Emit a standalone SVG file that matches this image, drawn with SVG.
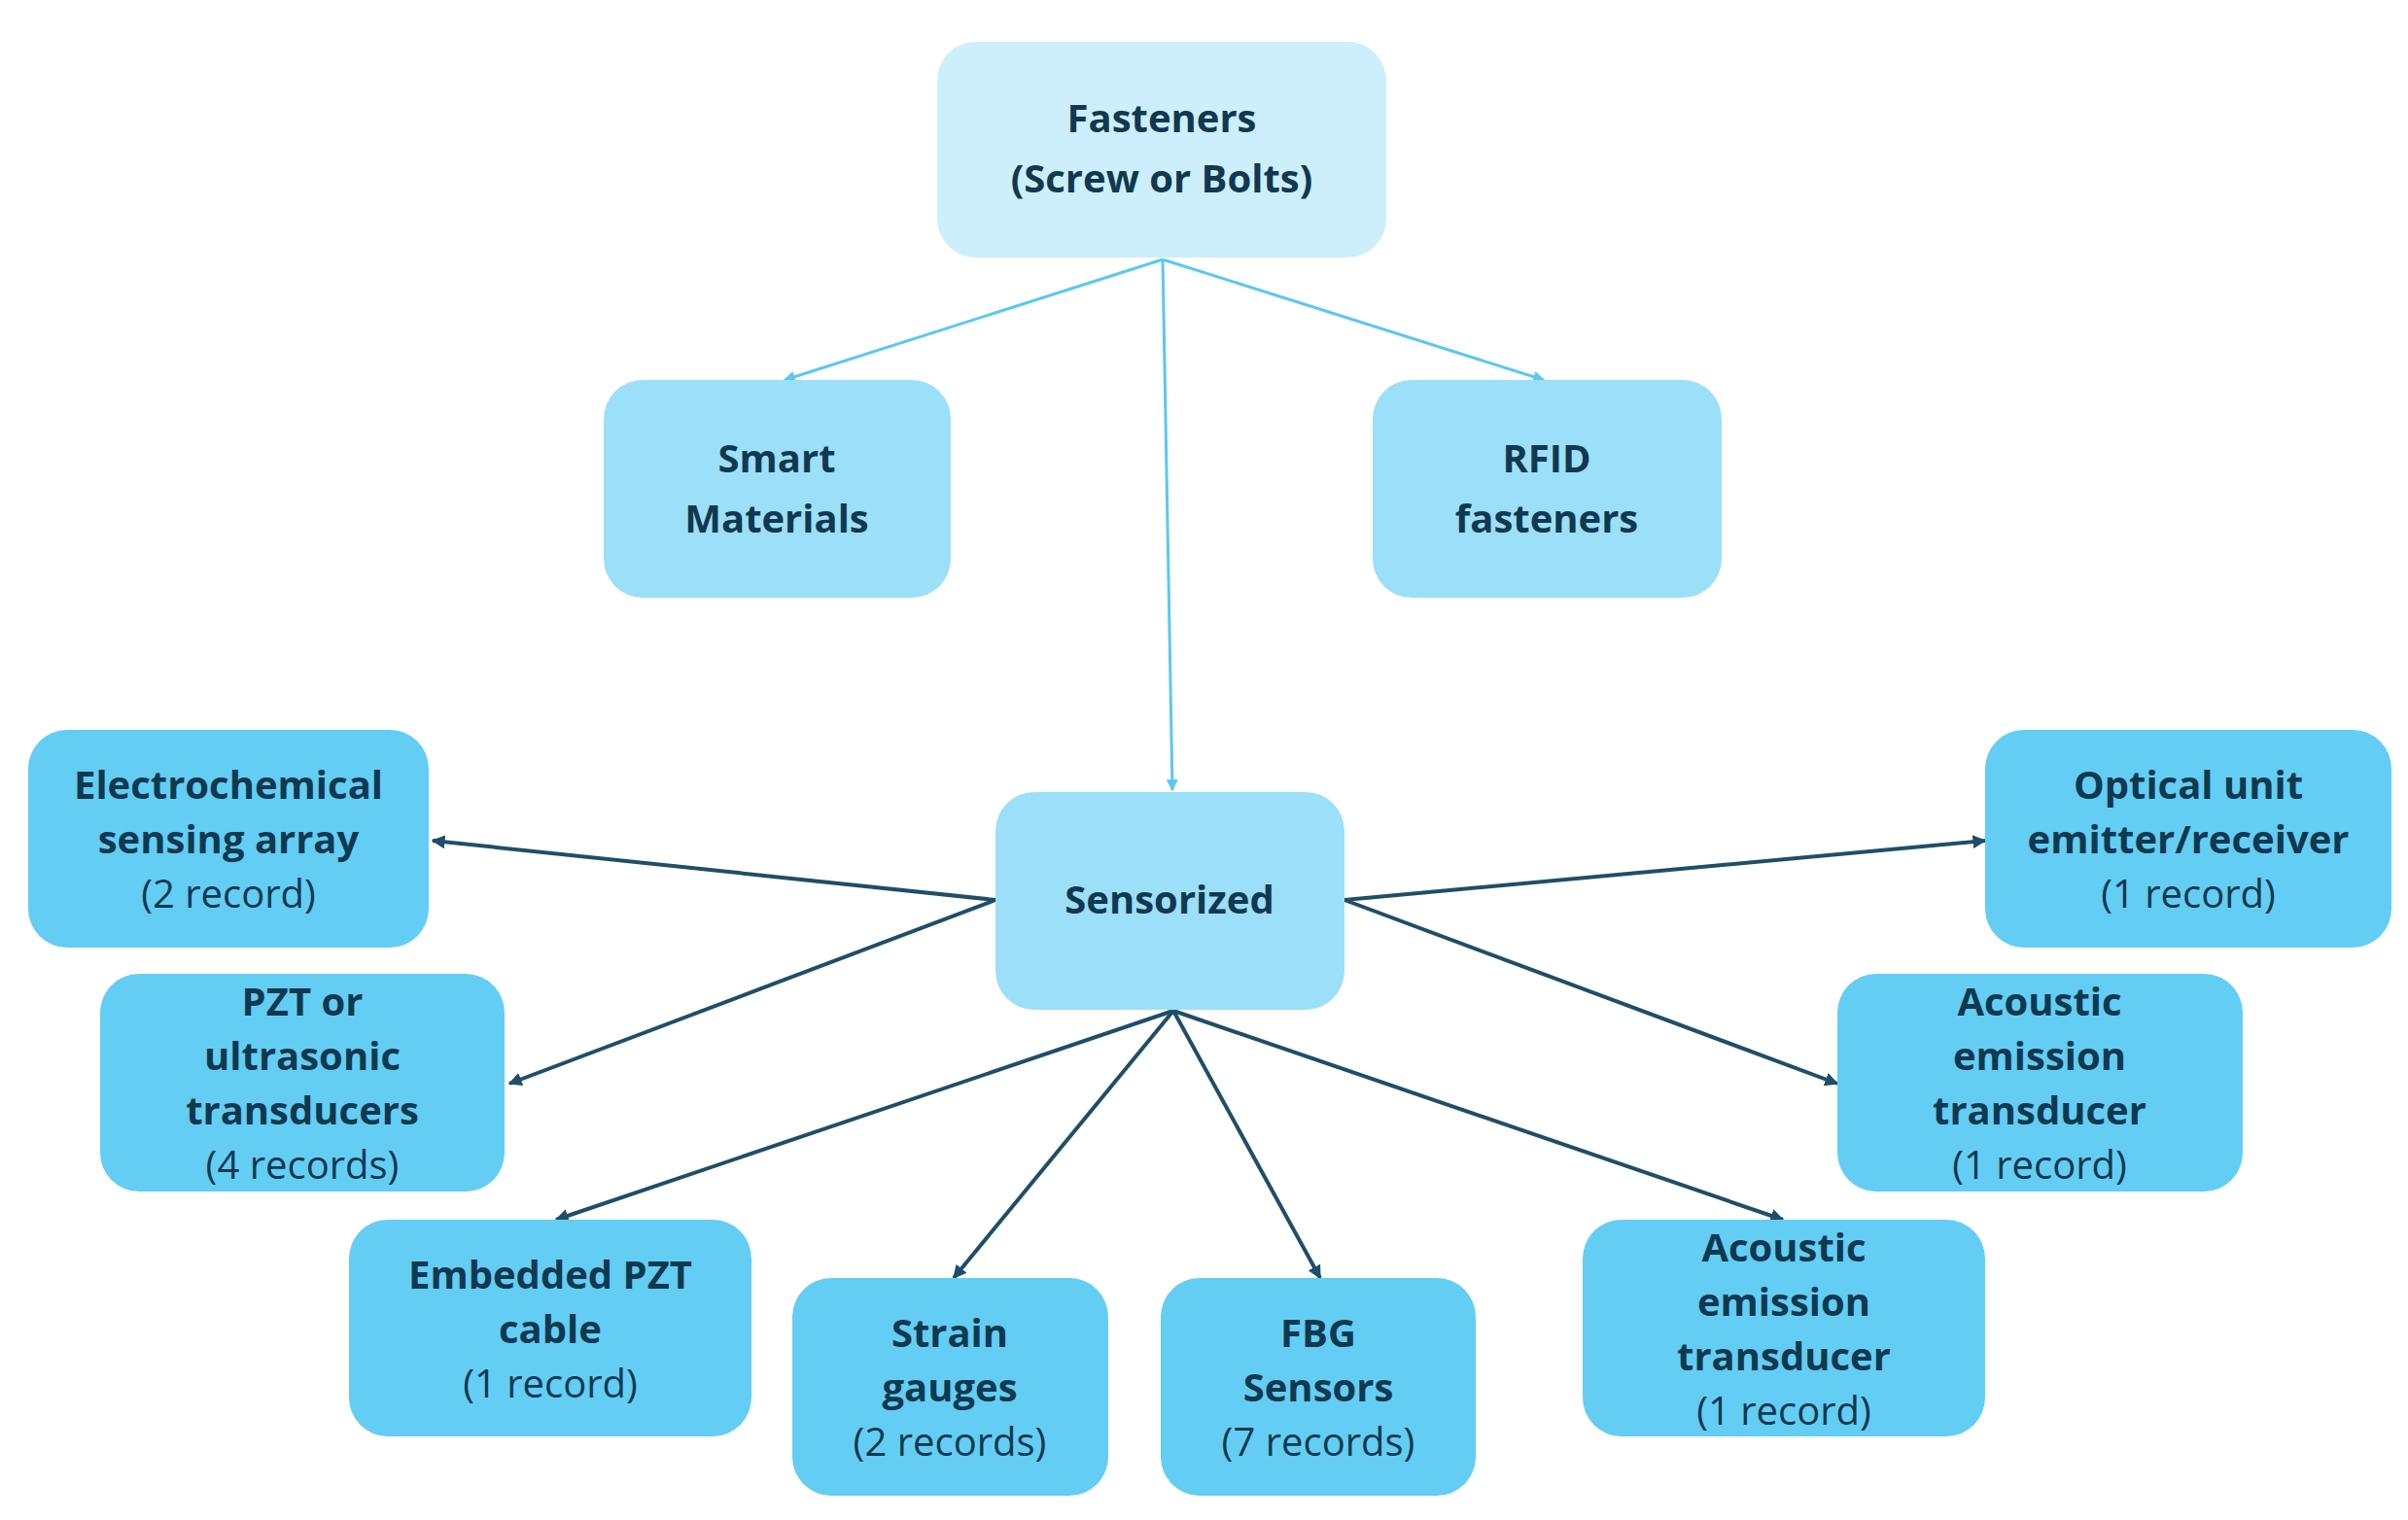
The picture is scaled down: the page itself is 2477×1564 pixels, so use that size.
<svg xmlns="http://www.w3.org/2000/svg" width="2477" height="1564" viewBox="0 0 2477 1564">
<style>
text{font-family:"Open Sans","Liberation Sans",sans-serif;font-size:40px;fill:#10394f;text-anchor:middle}
.b{font-weight:bold}
.r{font-weight:normal}
.l1{fill:#cdeefb}.l2{fill:#9cdff8}.l3{fill:#63cdf4}
.cl{stroke:#5bc8f0;stroke-width:3;fill:none}
.cd{stroke:#1f4e68;stroke-width:4;fill:none}
</style>
<defs>
<marker id="ma" viewBox="0 0 10 10" refX="9" refY="5" markerWidth="4" markerHeight="4" orient="auto"><path d="M0,0L10,5L0,10z" fill="#5bc8f0"/></marker>
<marker id="mb" viewBox="0 0 10 10" refX="9" refY="5" markerWidth="3.5" markerHeight="3.5" orient="auto"><path d="M0,0L10,5L0,10z" fill="#1f4e68"/></marker>
</defs>
<g id="connectors">
<path class="cl" marker-end="url(#ma)" d="M1196,267L807,391"/>
<path class="cl" marker-end="url(#ma)" d="M1196,267L1588,391"/>
<path class="cl" marker-end="url(#ma)" d="M1196,267L1206,813"/>
<path class="cd" marker-end="url(#mb)" d="M1024,926L445,865"/>
<path class="cd" marker-end="url(#mb)" d="M1024,926L524,1115"/>
<path class="cd" marker-end="url(#mb)" d="M1383,926L2042,865"/>
<path class="cd" marker-end="url(#mb)" d="M1383,926L1890,1115"/>
<path class="cd" marker-end="url(#mb)" d="M1207,1040L572,1255"/>
<path class="cd" marker-end="url(#mb)" d="M1207,1040L981,1315"/>
<path class="cd" marker-end="url(#mb)" d="M1207,1040L1358,1315"/>
<path class="cd" marker-end="url(#mb)" d="M1207,1040L1834,1255"/>
</g>
<g id="fasteners"><rect class="l1" x="964" y="43" width="462" height="222" rx="40"/><text class="b" x="1195" y="136">Fasteners</text><text class="b" x="1195" y="198">(Screw or Bolts)</text></g>
<g id="smart"><rect class="l2" x="621" y="391" width="357" height="224" rx="40"/><text class="b" x="799" y="486">Smart</text><text class="b" x="799" y="548">Materials</text></g>
<g id="rfid"><rect class="l2" x="1412" y="391" width="359" height="224" rx="40"/><text class="b" x="1591" y="486">RFID</text><text class="b" x="1591" y="548">fasteners</text></g>
<g id="sensorized"><rect class="l2" x="1024" y="815" width="359" height="224" rx="40"/><text class="b" x="1203" y="940">Sensorized</text></g>
<g id="electro"><rect class="l3" x="29" y="751" width="412" height="224" rx="40"/><text class="b" x="235" y="822">Electrochemical</text><text class="b" x="235" y="878">sensing array</text><text class="r" x="235" y="934">(2 record)</text></g>
<g id="optical"><rect class="l3" x="2042" y="751" width="418" height="224" rx="40"/><text class="b" x="2251" y="822">Optical unit</text><text class="b" x="2251" y="878">emitter/receiver</text><text class="r" x="2251" y="934">(1 record)</text></g>
<g id="pzt"><rect class="l3" x="103" y="1002" width="416" height="224" rx="40"/><text class="b" x="311" y="1045">PZT or</text><text class="b" x="311" y="1101">ultrasonic</text><text class="b" x="311" y="1157">transducers</text><text class="r" x="311" y="1213">(4 records)</text></g>
<g id="acoustic1"><rect class="l3" x="1890" y="1002" width="417" height="224" rx="40"/><text class="b" x="2098" y="1045">Acoustic</text><text class="b" x="2098" y="1101">emission</text><text class="b" x="2098" y="1157">transducer</text><text class="r" x="2098" y="1213">(1 record)</text></g>
<g id="embedded"><rect class="l3" x="359" y="1255" width="414" height="223" rx="40"/><text class="b" x="566" y="1326">Embedded  PZT</text><text class="b" x="566" y="1382">cable</text><text class="r" x="566" y="1438">(1 record)</text></g>
<g id="strain"><rect class="l3" x="815" y="1315" width="325" height="224" rx="40"/><text class="b" x="977" y="1386">Strain</text><text class="b" x="977" y="1442">gauges</text><text class="r" x="977" y="1498">(2 records)</text></g>
<g id="fbg"><rect class="l3" x="1194" y="1315" width="324" height="224" rx="40"/><text class="b" x="1356" y="1386">FBG</text><text class="b" x="1356" y="1442">Sensors</text><text class="r" x="1356" y="1498">(7 records)</text></g>
<g id="acoustic2"><rect class="l3" x="1628" y="1255" width="414" height="223" rx="40"/><text class="b" x="1835" y="1298">Acoustic</text><text class="b" x="1835" y="1354">emission</text><text class="b" x="1835" y="1410">transducer</text><text class="r" x="1835" y="1466">(1 record)</text></g>
</svg>
